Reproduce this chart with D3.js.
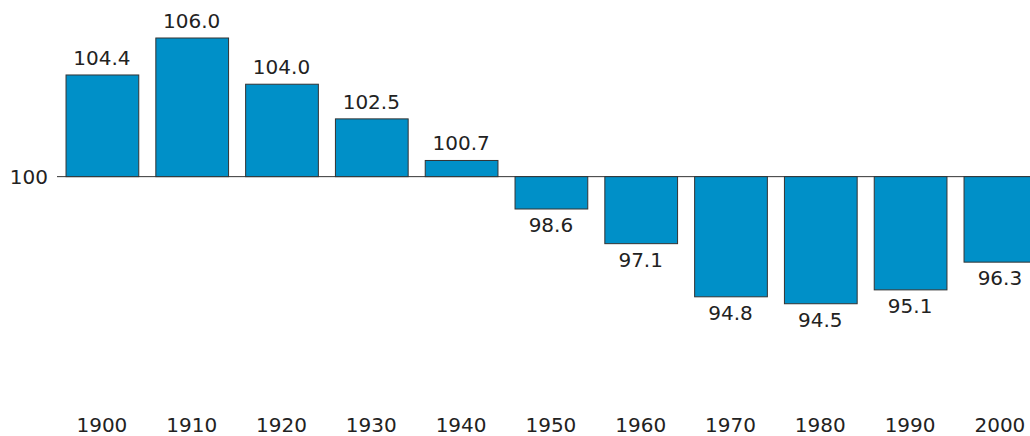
<!DOCTYPE html>
<html><head><meta charset="utf-8">
<script src="https://cdn.jsdelivr.net/npm/d3@7"></script>
<style>body{margin:0;background:#fff}svg{display:block}text{font-family:"DejaVu Sans",sans-serif}</style>
</head><body><svg id="c" width="1030" height="436"></svg>
<script>
const years = ["1900","1910","1920","1930","1940","1950","1960","1970","1980","1990","2000"];
const values = [104.4,106.0,104.0,102.5,100.7,98.6,97.1,94.8,94.5,95.1,96.3];
const baseValue = 100;
const yTicks = [100];

const svg = d3.select("#c");
const x = d3.scaleBand().domain(years).range([57, 57 + 11 * 89.8]).paddingInner(0.19).paddingOuter(0.095);
const y = d3.scaleLinear().domain([94, 106]).range([315.3, 38]);
const textColor = "#222";

// baseline
svg.append("line").attr("x1", 57).attr("x2", 1030)
  .attr("y1", y(baseValue)).attr("y2", y(baseValue))
  .attr("stroke", "#333").attr("stroke-width", 1);

// bars
svg.selectAll("rect.bar").data(values).enter().append("rect")
  .attr("class", "bar")
  .attr("x", (d, i) => x(years[i]) + 0.5)
  .attr("width", x.bandwidth())
  .attr("y", d => Math.min(y(d), y(baseValue)))
  .attr("height", d => Math.abs(y(d) - y(baseValue)))
  .attr("fill", "#0090c8").attr("stroke", "#333").attr("stroke-width", 1);

// value labels
svg.selectAll("text.val").data(values).enter().append("text")
  .attr("class", "val")
  .attr("x", (d, i) => x(years[i]) + x.bandwidth() / 2)
  .attr("y", d => d >= baseValue ? y(d) - 10 : y(d) + 23)
  .attr("text-anchor", "middle").attr("font-size", 20).attr("fill", textColor)
  .text(d => d.toFixed(1));

// x axis labels
const xAxis = d3.axisBottom(x).tickSize(0).tickPadding(0);
const gx = svg.append("g").attr("transform", "translate(0,418)").call(xAxis);
gx.select(".domain").remove();
gx.selectAll("text").attr("font-size", 20).attr("fill", textColor).attr("font-family", "DejaVu Sans");

// y axis label
const yAxis = d3.axisLeft(y).tickValues(yTicks).tickSize(0).tickPadding(0).tickFormat(d3.format("d"));
const gy = svg.append("g").attr("transform", "translate(48,0)").call(yAxis);
gy.select(".domain").remove();
gy.selectAll("text").attr("font-size", 20).attr("fill", textColor).attr("font-family", "DejaVu Sans");
</script></body></html>
